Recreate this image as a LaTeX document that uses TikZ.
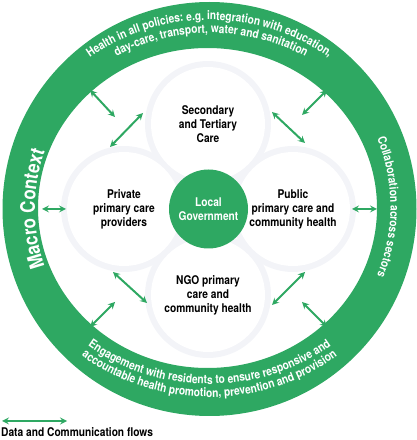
\documentclass[tikz,border=0pt]{standalone}
\usepackage{fontspec}
\setmainfont{TeX Gyre Heros}[FakeStretch=0.85]
\usetikzlibrary{decorations.text}
\definecolor{ringgreen}{RGB}{46,168,98}
\definecolor{halo}{RGB}{243,244,248}
\newcommand\ringfont{\fontsize{12}{14}\selectfont\bfseries}
\newcommand\macrofont{\fontsize{20}{24}\selectfont\bfseries}
\tikzset{
  care/.style={circle,fill=white,minimum size=114pt,inner sep=0pt,align=center,
    font=\fontsize{12}{14}\selectfont\bfseries},
  flow/.style={<->,ringgreen,line width=2pt},
  ringtext/.style={decorate,decoration={text along path,text align=center,
    text color=white,text={#1}}}
}
\begin{document}
\begin{tikzpicture}[x=1pt,y=1pt,>=stealth]
\useasboundingbox (0,0) rectangle (417,440);
% ring
\fill[ringgreen,even odd rule] (209.5,231) circle (207) (207.5,232) ellipse (169.5 and 160);
\path[ringtext={|\ringfont|Health in all policies: e.g. integration with education,}]
  (209.5,231) ++(165:200 and 189) arc[start angle=165,end angle=15,x radius=200,y radius=189];
\path[ringtext={|\ringfont|day-care, transport, water and sanitation}]
  (211,231) ++(165:188 and 176) arc[start angle=165,end angle=15,x radius=188,y radius=176];
\path[ringtext={|\macrofont|Macro Context}]
  (209.5,231) ++(225:174.5) arc[start angle=225,end angle=135,radius=174.5];
\path[ringtext={|\ringfont|Collaboration across sectors}]
  (209.5,233) ++(45:181) arc[start angle=45,end angle=-45,radius=181];
\path[ringtext={|\ringfont|Engagement with residents to ensure responsive and}]
  (209.5,231) ++(195:195 and 175) arc[start angle=195,end angle=345,x radius=195,y radius=175];
\path[ringtext={|\ringfont|accountable health promotion, prevention and provision}]
  (209.5,231) ++(195:205 and 188) arc[start angle=195,end angle=345,x radius=205,y radius=188];
% care circles
\foreach \c in {(208,316),(124,231),(293,231),(208,145)}
  \fill[halo] \c circle (63);
\node[care] (sec) at (208,316) {Secondary\\and Tertiary\\Care};
\node[care] (pri) at (124,231) {Private\\primary care\\providers};
\node[care] (pub) at (293,231) {Public\\primary care and\\community health};
\node[care] (ngo) at (208,145) {NGO primary\\care and\\community health};
\node[care,fill=ringgreen,text=white,minimum size=79pt] (gov) at (208.5,231) {Local\\Government};
% flows
\coordinate (w1) at (42,231);    \coordinate (w2) at (66,231);
\coordinate (e1) at (352,231);   \coordinate (e2) at (377,231);
\coordinate (nwo1) at (90,350);  \coordinate (nwo2) at (115,323);
\coordinate (nwi1) at (110,293); \coordinate (nwi2) at (143,327);
\coordinate (nei1) at (272,328); \coordinate (nei2) at (305,297);
\coordinate (neo1) at (302,325); \coordinate (neo2) at (327,350);
\coordinate (swi1) at (113,168); \coordinate (swi2) at (147,137);
\coordinate (swo1) at (90,113);  \coordinate (swo2) at (115,138);
\coordinate (sei1) at (272,135); \coordinate (sei2) at (305,168);
\coordinate (seo1) at (302,138); \coordinate (seo2) at (327,113);
\foreach \n in {w,e,nwo,nwi,nei,neo,swi,swo,sei,seo}
  \draw[flow] (\n1) -- (\n2);
% legend
\coordinate (k1) at (2,19); \coordinate (k2) at (67,19);
\draw[flow] (k1) -- (k2);
\node[anchor=base west,inner sep=0pt,font=\fontsize{12}{14}\selectfont\bfseries] (key) at (1,3) {Data and Communication flows};
\end{tikzpicture}
\end{document}
